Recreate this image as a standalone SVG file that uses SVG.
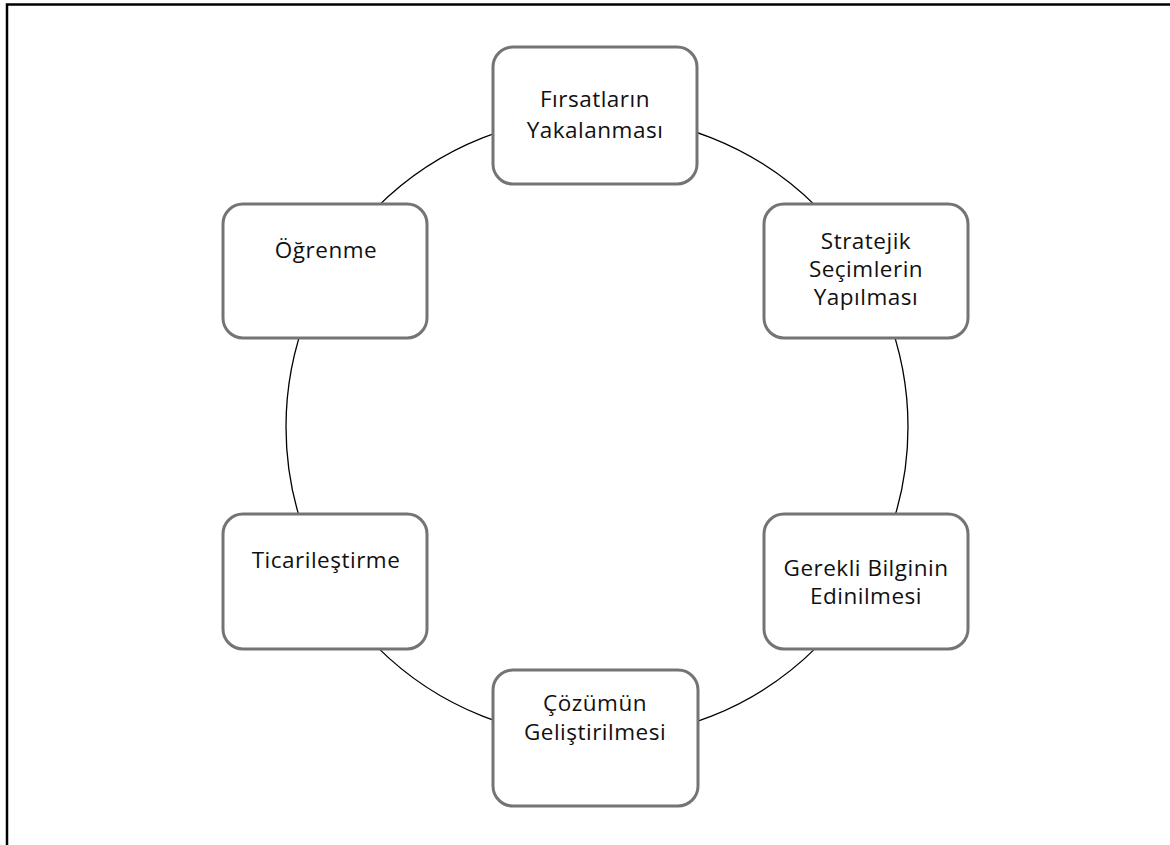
<svg xmlns="http://www.w3.org/2000/svg" width="1170" height="845" viewBox="0 0 1170 845">
<style>
.box{fill:#ffffff;stroke:#747474;stroke-width:3}
.lbl{font-family:"Open Sans","Noto Sans",sans-serif;font-size:22.5px;letter-spacing:0.5px;fill:#111;text-anchor:middle}
.ring{fill:none;stroke:#000;stroke-width:1.3}
.frame{fill:none;stroke:#000;stroke-width:2.5}
</style>
<rect width="1170" height="845" fill="#fff"/>
<path class="frame" d="M7 845 V4.5 H1170"/>
<g id="connectors">
<circle class="ring" cx="597" cy="427" r="311"/>
</g>
<g id="node-firsat">
<rect class="box" x="493" y="47" width="204" height="137" rx="20"/>
<text class="lbl" x="595" y="107">Fırsatların</text>
<text class="lbl" x="595" y="138">Yakalanması</text>
</g>
<g id="node-stratejik">
<rect class="box" x="764" y="204" width="204" height="134" rx="20"/>
<text class="lbl" x="866" y="249">Stratejik</text>
<text class="lbl" x="866" y="277">Seçimlerin</text>
<text class="lbl" x="866" y="305">Yapılması</text>
</g>
<g id="node-gerekli">
<rect class="box" x="764" y="514" width="204" height="135" rx="20"/>
<text class="lbl" x="866" y="576">Gerekli Bilginin</text>
<text class="lbl" x="866" y="604">Edinilmesi</text>
</g>
<g id="node-cozum">
<rect class="box" x="493" y="670" width="205" height="136" rx="20"/>
<text class="lbl" x="595" y="711">Çözümün</text>
<text class="lbl" x="595" y="740">Geliştirilmesi</text>
</g>
<g id="node-ticari">
<rect class="box" x="223" y="514" width="204" height="135" rx="20"/>
<text class="lbl" x="326" y="568">Ticarileştirme</text>
</g>
<g id="node-ogrenme">
<rect class="box" x="223" y="204" width="204" height="134" rx="20"/>
<text class="lbl" x="326" y="258">Öğrenme</text>
</g>
</svg>
